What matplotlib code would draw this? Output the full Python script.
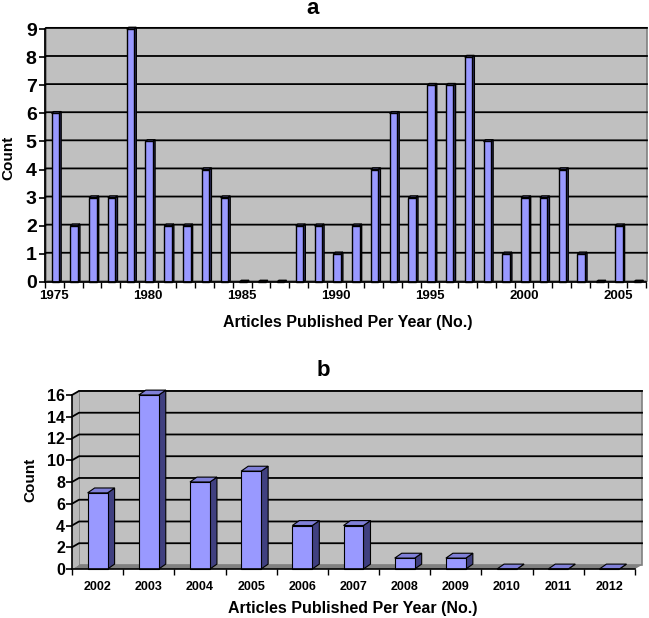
import matplotlib
matplotlib.use("Agg")
import matplotlib.pyplot as plt
from matplotlib.patches import Polygon, Rectangle

plt.rcParams['font.family'] = ['Liberation Sans', 'DejaVu Sans']
plt.rcParams['font.weight'] = 'bold'

# panel a data
years_a = list(range(1975, 2007))
counts_a = [6, 2, 3, 3, 9, 5, 2, 2, 4, 3, 0, 0, 0, 2, 2, 1,
            2, 4, 6, 3, 7, 7, 8, 5, 1, 3, 3, 4, 1, 0, 2, 0]
labels_a = ['1975', '1980', '1985', '1990', '1995', '2000', '2005']

# panel b data
years_b = ['2002', '2003', '2004', '2005', '2006', '2007', '2008', '2009', '2010', '2011', '2012']
counts_b = [7, 16, 8, 9, 4, 4, 1, 1, 0, 0, 0]

FRONT = '#9999FF'
SIDE = '#404080'
TOP = '#8080D8'
WALL = '#C0C0C0'
W, H = 649, 618


def px_axes(left, top, right, bottom):
    return [left / W, 1 - bottom / H, (right - left) / W, (bottom - top) / H]


def draw_bars(ax, values, width, dx, dy, off=0.0, lw=0.8):
    for i, v in enumerate(values):
        x0 = i - width / 2 + off
        x1 = i + width / 2 + off
        ax.add_patch(Polygon([(x1, 0), (x1 + dx, dy), (x1 + dx, v + dy), (x1, v)],
                             closed=True, fc=SIDE, ec='black', lw=lw, zorder=4, clip_on=False))
        ax.add_patch(Polygon([(x0, v), (x1, v), (x1 + dx, v + dy), (x0 + dx, v + dy)],
                             closed=True, fc=TOP, ec='black', lw=lw, zorder=4, clip_on=False))
        ax.add_patch(Rectangle((x0, 0), width, v, fc=FRONT, ec='black', lw=lw,
                               zorder=5, clip_on=False))


def draw_box(ax, n, ymax, step, dx, dy):
    xl, xr = -0.5, n - 0.5
    # back wall, left wall, floor
    ax.add_patch(Polygon([(xl + dx, dy), (xr + dx, dy), (xr + dx, ymax + dy), (xl + dx, ymax + dy)],
                         closed=True, fc=WALL, ec='#808080', lw=1.2, zorder=1, clip_on=False))
    ax.add_patch(Polygon([(xl, 0), (xl + dx, dy), (xl + dx, ymax + dy), (xl, ymax)],
                         closed=True, fc='#B8B8B8', ec='none', zorder=1, clip_on=False))
    ax.add_patch(Polygon([(xl, 0), (xr, 0), (xr + dx, dy), (xl + dx, dy)],
                         closed=True, fc='#808080', ec='none', zorder=2, clip_on=False))
    y = step
    while y <= ymax:
        ax.plot([xl, xl + dx, xr + dx], [y, y + dy, y + dy], color='black', lw=1.3,
                zorder=2, clip_on=False)
        y += step


fig = plt.figure(figsize=(6.49, 6.18), dpi=100)

# ---- panel a ----
ax1 = fig.add_axes(px_axes(45, 29, 646, 282))
ax1.set_xlim(-0.5, len(years_a) - 0.5)
ax1.set_ylim(0, 9)
ax1.patch.set_visible(False)
draw_box(ax1, len(years_a), 9, 1, 0.05, 0.04)
draw_bars(ax1, counts_a, 0.4, 0.11, 0.06, off=0.05, lw=1.0)
for s in ['top', 'right']:
    ax1.spines[s].set_visible(False)
for s in ['left', 'bottom']:
    ax1.spines[s].set_linewidth(1.3)
    ax1.spines[s].set_zorder(6)
ax1.set_yticks(range(10))
ax1.tick_params(axis='y', labelsize=14, length=4, width=1.2, pad=2)
ax1.set_xticks([years_a.index(int(t)) for t in labels_a])
ax1.set_xticklabels(labels_a, fontsize=9.5)
ax1.set_xticks([i - 0.5 for i in range(len(years_a) + 1)], minor=True)
ax1.tick_params(axis='x', which='major', length=0, pad=6)
ax1.tick_params(axis='x', which='minor', length=4, width=1.0)
for t in ax1.get_yticklabels() + ax1.get_xticklabels():
    t.set_fontweight('bold')

# ---- panel b ----
ax2 = fig.add_axes(px_axes(72, 395, 635, 569))
ax2.set_xlim(-0.5, len(years_b) - 0.5)
ax2.set_ylim(0, 16)
ax2.patch.set_visible(False)
draw_box(ax2, len(years_b), 16, 2, 0.137, 0.37)
draw_bars(ax2, counts_b, 0.39, 0.137, 0.45)
for s in ['top', 'right']:
    ax2.spines[s].set_visible(False)
for s in ['left', 'bottom']:
    ax2.spines[s].set_linewidth(1.2)
    ax2.spines[s].set_zorder(6)
ax2.set_yticks(range(0, 17, 2))
ax2.tick_params(axis='y', labelsize=11.5, length=4, width=1.2, pad=1)
ax2.set_xticks(range(len(years_b)))
ax2.set_xticklabels(years_b, fontsize=9)
ax2.set_xticks([i - 0.5 for i in range(len(years_b) + 1)], minor=True)
ax2.tick_params(axis='x', which='major', length=0, pad=9)
ax2.tick_params(axis='x', which='minor', length=4, width=1.0)
for t in ax2.get_yticklabels() + ax2.get_xticklabels():
    t.set_fontweight('bold')

# titles and axis labels
fig.text(313 / W, 1 - 9 / H, 'a', ha='center', va='center', fontsize=16, fontweight='bold')
fig.text(323 / W, 1 - 370 / H, 'b', ha='center', va='center', fontsize=16, fontweight='bold')
fig.text(8 / W, 1 - 158 / H, 'Count', rotation=90, ha='center', va='center', fontsize=11, fontweight='bold')
fig.text(30 / W, 1 - 480 / H, 'Count', rotation=90, ha='center', va='center', fontsize=11, fontweight='bold')
fig.text(348 / W, 1 - 322 / H, 'Articles Published Per Year (No.)', ha='center', va='center',
         fontsize=11.5, fontweight='bold')
fig.text(353 / W, 1 - 608 / H, 'Articles Published Per Year (No.)', ha='center', va='center',
         fontsize=11.5, fontweight='bold')

fig.savefig('out.png', dpi=100)
